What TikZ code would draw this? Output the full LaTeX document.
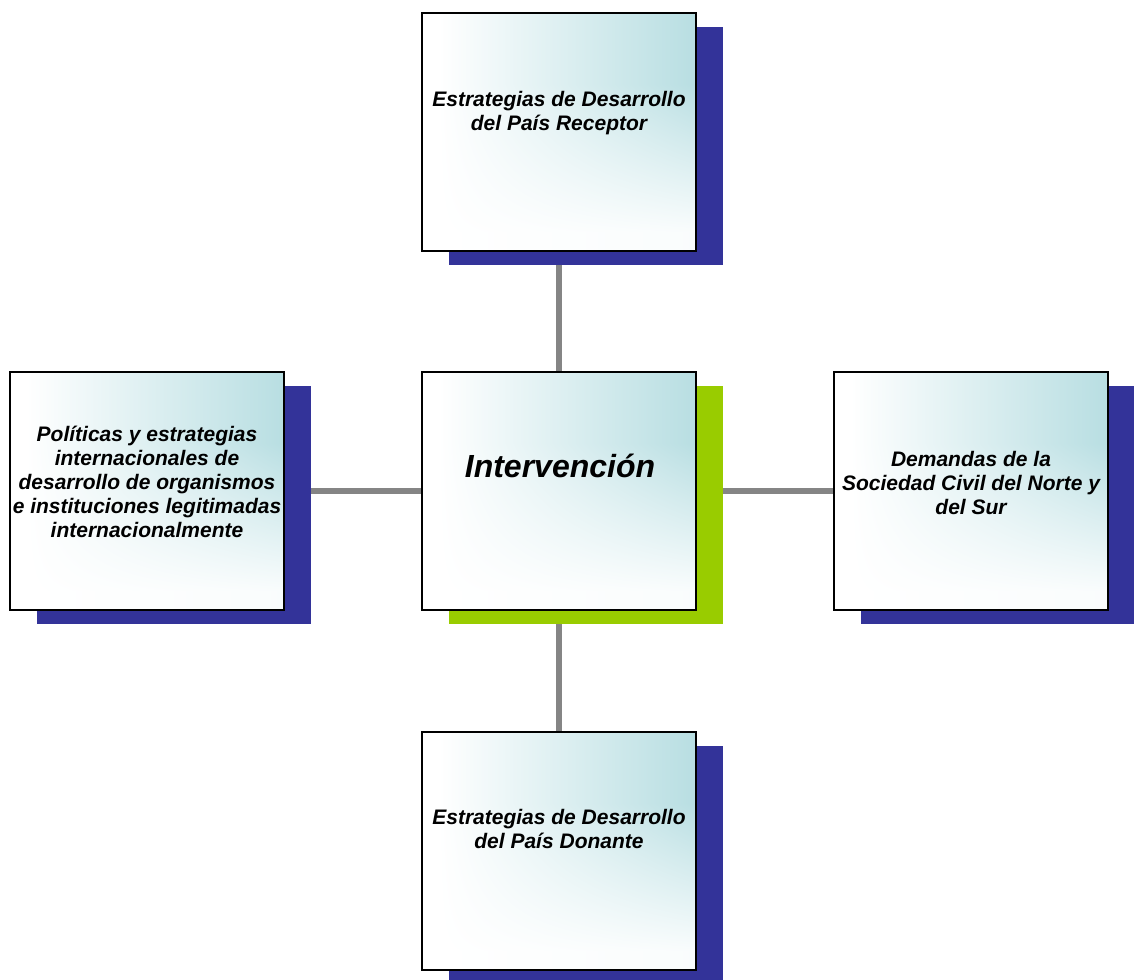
\documentclass[tikz,border=0pt]{standalone}
\usepackage{fontspec}
\setmainfont{Liberation Sans}
\usetikzlibrary{shadows,backgrounds}
\definecolor{shblue}{HTML}{333399}
\definecolor{shgreen}{HTML}{99CC00}
\definecolor{conngray}{HTML}{858585}
% white (left/bottom) to light teal (upper right)
\pgfdeclarefunctionalshading{boxgrad}{\pgfpoint{-50bp}{-50bp}}{\pgfpoint{50bp}{50bp}}{}{
  25 add 50 div
  0.08 sub 0.62 div dup 0 lt {pop 0} if dup 1 gt {pop 1} if
  0.92 mul 0.08 add
  exch 25 add 50 div 0.06 sub 0.94 div dup 0 lt {pop 0} if dup 1 gt {pop 1} if
  mul
  dup 0.278 mul 1 exch sub
  exch dup 0.129 mul 1 exch sub
  exch 0.114 mul 1 exch sub
}
\tikzset{
  box/.style={draw=black, line width=2pt, minimum width=274pt, minimum height=238pt,
    inner sep=0pt, shade, shading=boxgrad},
  blueshadow/.style={drop shadow={shadow xshift=27pt, shadow yshift=-14pt, fill=shblue, opacity=1}},
  greenshadow/.style={drop shadow={shadow xshift=27pt, shadow yshift=-14pt, fill=shgreen, opacity=1}},
  txt/.style={font=\fontsize{21}{24}\selectfont\bfseries\itshape, align=center, inner sep=0pt, anchor=north},
  bigtxt/.style={font=\fontsize{32}{36}\selectfont\bfseries\itshape, inner sep=0pt, anchor=base},
  conn/.style={draw=conngray, line width=6pt}
}
\begin{document}
\begin{tikzpicture}[x=1pt, y=-1pt]
\useasboundingbox (0,0) rectangle (1134,979);
% boxes
\node[box, blueshadow] (top) at (559,132) {};
\node[box, greenshadow] (ctr) at (559,491) {};
\node[box, blueshadow] (left) at (147,491) {};
\node[box, blueshadow] (right) at (971,491) {};
\node[box, blueshadow] (bot) at (559,851) {};
% texts
\node[txt] (ttop) at (559,89.2) {\strut Estrategias de Desarrollo\\\strut del País Receptor};
\node[bigtxt] (tctr) at (560,477) {Intervención};
\node[txt] (tleft) at (147,424.7) {\strut Políticas y estrategias\\\strut internacionales de\\\strut desarrollo de organismos\\\strut e instituciones legitimadas\\\strut internacionalmente};
\node[txt] (tright) at (971,449.2) {\strut Demandas de la\\\strut Sociedad Civil del Norte y\\\strut del Sur};
\node[txt] (tbot) at (559,807.2) {\strut Estrategias de Desarrollo\\\strut del País Donante};
% connectors
\begin{scope}[on background layer]
  \fill[white] (0,0) rectangle (1134,979);
  \draw[conn] (top) -- (ctr);
  \draw[conn] (ctr) -- (bot);
  \draw[conn] (left) -- (ctr);
  \draw[conn] (ctr) -- (right);
\end{scope}
\end{tikzpicture}
\end{document}
